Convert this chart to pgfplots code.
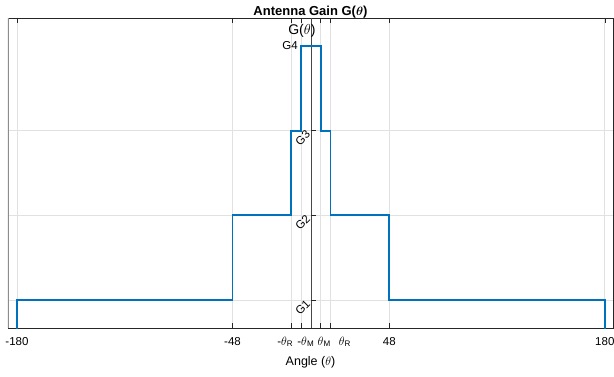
\documentclass[border=0pt]{standalone}
\usepackage{pgfplots}
\pgfplotsset{compat=1.18}
\usepackage{fontspec}
\setmainfont{Liberation Sans}
\definecolor{mblue}{RGB}{0,114,189}
\definecolor{gridc}{RGB}{225,225,225}
\definecolor{axc}{RGB}{38,38,38}
\begin{document}
\begin{tikzpicture}
\begin{axis}[
  scale only axis, width=605pt, height=310pt,
  xmin=-185.5, xmax=185, ymin=0.67, ymax=4.33,
  xtick={-180,-48,-12,-6,6,12,48,180},
  xticklabels={-180,-48,
    {\makebox[0pt][l]{\hspace{-14pt}-$\theta$\textsubscript{R}}},
    {\makebox[0pt][l]{\hspace{-3.7pt}-$\theta$\textsubscript{M}}},
    {\makebox[0pt][l]{\hspace{-3pt}$\theta$\textsubscript{M}}},
    {\makebox[0pt][l]{\hspace{8.3pt}$\theta$\textsubscript{R}}},
    48,180},
  ytick={1,2,3}, yticklabels={},
  ytick style={draw=none},
  xtick style={axc, line width=0.6pt},
  major tick length=5pt,
  tick align=inside,
  xmajorgrids, ymajorgrids,
  grid style={gridc, line width=0.7pt},
  axis line style={axc, line width=0.6pt},
  xticklabel style={font=\fontsize{11.5}{13}\selectfont, anchor=base, yshift=-17pt},
  xlabel={Angle ($\theta$)},
  xlabel style={at={(axis description cs:0.5,0)}, anchor=base, yshift=-37pt, font=\fontsize{12.5}{14}\selectfont},
  title={Antenna Gain G({\boldmath$\theta$})},
  title style={at={(axis description cs:0.5,1)}, anchor=base, yshift=-4pt, font=\bfseries\fontsize{13}{15}\selectfont},
]
\coordinate (sw) at (rel axis cs:0,0);
\coordinate (ne) at (rel axis cs:1,1);
\draw[gray!90, line width=1.5pt] (rel axis cs:0,0) -- (rel axis cs:0,1);
\draw[axc!85, line width=0.7pt] (axis cs:0,0.67) -- (axis cs:0,4.33);
\draw[axc, line width=0.6pt] (axis cs:0,1) -- ++(5pt,0pt);
\draw[axc, line width=0.6pt] (axis cs:0,2) -- ++(5pt,0pt);
\draw[axc, line width=0.6pt] (axis cs:0,3) -- ++(5pt,0pt);
\addplot[mblue, line width=1.8pt] coordinates {
  (-180,0) (-180,1) (-48,1) (-48,2) (-12,2) (-12,3) (-6,3) (-6,4)
  (6,4) (6,3) (12,3) (12,2) (48,2) (48,1) (180,1) (180,0)
};
\node[font=\fontsize{11.5}{13}\selectfont, anchor=east, rotate=45, inner sep=1pt] at ([xshift=-2pt,yshift=-1pt]axis cs:0,1) {G1};
\node[font=\fontsize{11.5}{13}\selectfont, anchor=east, rotate=45, inner sep=1pt] at ([xshift=-2pt,yshift=-1pt]axis cs:0,2) {G2};
\node[font=\fontsize{11.5}{13}\selectfont, anchor=east, rotate=45, inner sep=1pt] at ([xshift=-2pt,yshift=-1pt]axis cs:0,3) {G3};
\node[font=\fontsize{11.5}{13}\selectfont, anchor=east, inner sep=0pt] at ([xshift=-13pt]axis cs:0,4) {G4};
\node[font=\fontsize{14}{16}\selectfont, inner sep=0pt] at ([xshift=-9pt,yshift=-13pt]axis cs:0,4.33) {G($\theta$)};
\end{axis}
\pgfresetboundingbox
\path[use as bounding box] ([xshift=-8pt,yshift=-48pt]sw) rectangle ([xshift=1pt,yshift=18pt]ne);
\end{tikzpicture}
\end{document}
